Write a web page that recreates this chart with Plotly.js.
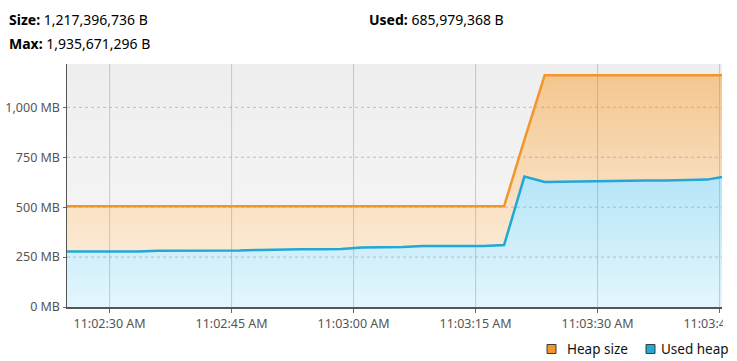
<!DOCTYPE html>
<html>
<head>
<meta charset="utf-8">
<script src="https://cdn.plot.ly/plotly-3.0.1.min.js"></script>
<style>
  html, body { margin: 0; padding: 0; background: #ffffff; }
  #wrap { position: relative; width: 737px; height: 361px; overflow: hidden; }
  #bg { position: absolute; left: 67px; top: 64px; width: 655px; height: 243px;
        background: linear-gradient(#eeeeee, #f8f8f8); }
  #chart { position: absolute; left: 0; top: 0; width: 737px; height: 361px; }
</style>
</head>
<body>
<div id="wrap"><div id="bg"></div><div id="chart"></div></div>
<script>
// ---- data (MB = MiB) ----
const day = '2024-01-01 ';
const times = ['11:02:23.5','11:02:26','11:02:28.5','11:02:31','11:02:33.5','11:02:36','11:02:38.5',
  '11:02:41','11:02:43.5','11:02:46','11:02:48.5','11:02:51','11:02:53.5','11:02:56','11:02:58.5',
  '11:03:01','11:03:03.5','11:03:06','11:03:08.5','11:03:11','11:03:13.5','11:03:16','11:03:18.5',
  '11:03:21','11:03:23.5','11:03:26','11:03:28.5','11:03:31','11:03:33.5','11:03:36','11:03:38.5',
  '11:03:41','11:03:43.5','11:03:46'];
const heapSize = [504,504,504,504,504,504,504,504,504,504,504,504,504,504,504,504,504,504,504,504,504,504,504,
  837,1161,1161,1161,1161,1161,1161,1161,1161,1161,1161];
const usedHeap = [278,278,278,278,278,282,282,282,282,283,286,289,289,289,290,298,298,300,305,305,305,305,310,
  653,626,628,629,630,633,634,634,637,638,656];
const xTicks = ['11:02:30','11:02:45','11:03:00','11:03:15','11:03:30','11:03:45'];
const yTicks = [0,250,500,750,1000];
const yTickText = ['0 MB','250 MB','500 MB','750 MB','1,000 MB'];
const xRange = ['11:02:24.76','11:03:45.3'];
const yRange = [0,1217];
const seriesNames = ['Heap size','Used heap'];
const headerLabels = ['Size:','Max:','Used:'];
const headerValues = ['1,217,396,736 B','1,935,671,296 B','685,979,368 B'];

// ---- styles ----
const orange = '#f0962a', blue = '#22a7d7';
const X = times.map(t => day + t);
const XR = xRange.map(t => day + t);
const FONT = 'Noto Sans, Open Sans, sans-serif';

// pixel -> paper helpers (plot area: left 67, right 722, top 64, bottom 307)
const L = 67, T = 64, PW = 655, PH = 243;
const px = v => (v - L) / PW;
const py = v => (T + PH - v) / PH;

const traces = [];
// fills
traces.push({x: X, y: heapSize, type: 'scatter', mode: 'none', fill: 'tozeroy',
  fillgradient: {type: 'vertical', start: 0, stop: 1161,
    colorscale: [[0, '#fdf2e4'], [0.43, '#fae2c5'], [1, '#f4c68f']]},
  showlegend: false, hoverinfo: 'skip'});
traces.push({x: X, y: usedHeap, type: 'scatter', mode: 'none', fill: 'tozeroy',
  fillgradient: {type: 'vertical', start: 0, stop: 656,
    colorscale: [[0, '#e3f6fd'], [1, '#b5e5f8']]},
  showlegend: false, hoverinfo: 'skip'});
// gridlines above fills
xTicks.forEach(t => traces.push({x: [day + t, day + t], y: yRange, type: 'scatter', mode: 'lines',
  line: {color: 'rgba(140,140,140,0.40)', width: 1}, showlegend: false, hoverinfo: 'skip'}));
yTicks.slice(1).forEach(v => traces.push({x: XR, y: [v, v], type: 'scatter', mode: 'lines',
  line: {color: 'rgba(150,150,150,0.55)', width: 1, dash: 'dot'}, showlegend: false, hoverinfo: 'skip'}));
// lines
traces.push({x: X, y: heapSize, type: 'scatter', mode: 'lines', name: seriesNames[0],
  line: {color: orange, width: 2.5}, showlegend: false});
traces.push({x: X, y: usedHeap, type: 'scatter', mode: 'lines', name: seriesNames[1],
  line: {color: blue, width: 2.5}, showlegend: false});

const annotations = [];
const headerPos = [[8, 20], [8, 43], [368, 20]];
headerLabels.forEach((lab, i) => annotations.push({
  text: '<b>' + lab + '</b> ' + headerValues[i], xref: 'paper', yref: 'paper',
  x: px(headerPos[i][0]), y: py(headerPos[i][1]), xanchor: 'left', yanchor: 'middle',
  showarrow: false, borderpad: 0, font: {family: FONT, size: 14, color: '#000'}}));

const shapes = [];
const legendX = [547, 646];
const legendTextX = [566, 660];
const legendColors = [orange, blue];
seriesNames.forEach((n, i) => {
  shapes.push({type: 'rect', xref: 'paper', yref: 'paper', layer: 'above',
    x0: px(legendX[i]), x1: px(legendX[i] + 9), y0: py(353.5), y1: py(344.5),
    fillcolor: legendColors[i], line: {color: '#3c3c3c', width: 1}});
  annotations.push({text: n, xref: 'paper', yref: 'paper', x: px(legendTextX[i]), y: py(349),
    xanchor: 'left', yanchor: 'middle', showarrow: false, borderpad: 0,
    font: {family: FONT, size: 13.5, color: '#111'}});
});
// clip of axis labels at plot right edge (as in the reference)
shapes.push({type: 'rect', xref: 'paper', yref: 'paper', layer: 'above',
  x0: px(723), x1: px(745), y0: py(309), y1: py(337), fillcolor: '#ffffff', line: {width: 0}});

const layout = {
  width: 737, height: 361,
  margin: {l: L, r: 737 - L - PW, t: T, b: 361 - T - PH, pad: 0},
  paper_bgcolor: 'rgba(0,0,0,0)', plot_bgcolor: 'rgba(0,0,0,0)',
  showlegend: false,
  xaxis: {type: 'date', range: XR, showgrid: false, zeroline: false,
    tickmode: 'array', tickvals: xTicks.map(t => day + t), tickformat: '%-I:%M:%S %p',
    ticks: 'outside', ticklen: 4, tickcolor: '#666', showline: true, linecolor: '#555', linewidth: 1.5,
    ticklabeloverflow: 'allow',
    tickfont: {family: FONT, size: 12.5, color: '#555'}},
  yaxis: {range: yRange, showgrid: false, zeroline: false,
    tickmode: 'array', tickvals: yTicks, ticktext: yTickText,
    ticks: 'outside', ticklen: 3, tickcolor: '#666', showline: true, linecolor: '#555', linewidth: 1.5,
    ticklabeloverflow: 'allow',
    tickfont: {family: FONT, size: 12.5, color: '#555'}},
  annotations: annotations, shapes: shapes,
  font: {family: FONT}
};
Plotly.newPlot('chart', traces, layout, {displayModeBar: false, staticPlot: true});
</script>
</body>
</html>
